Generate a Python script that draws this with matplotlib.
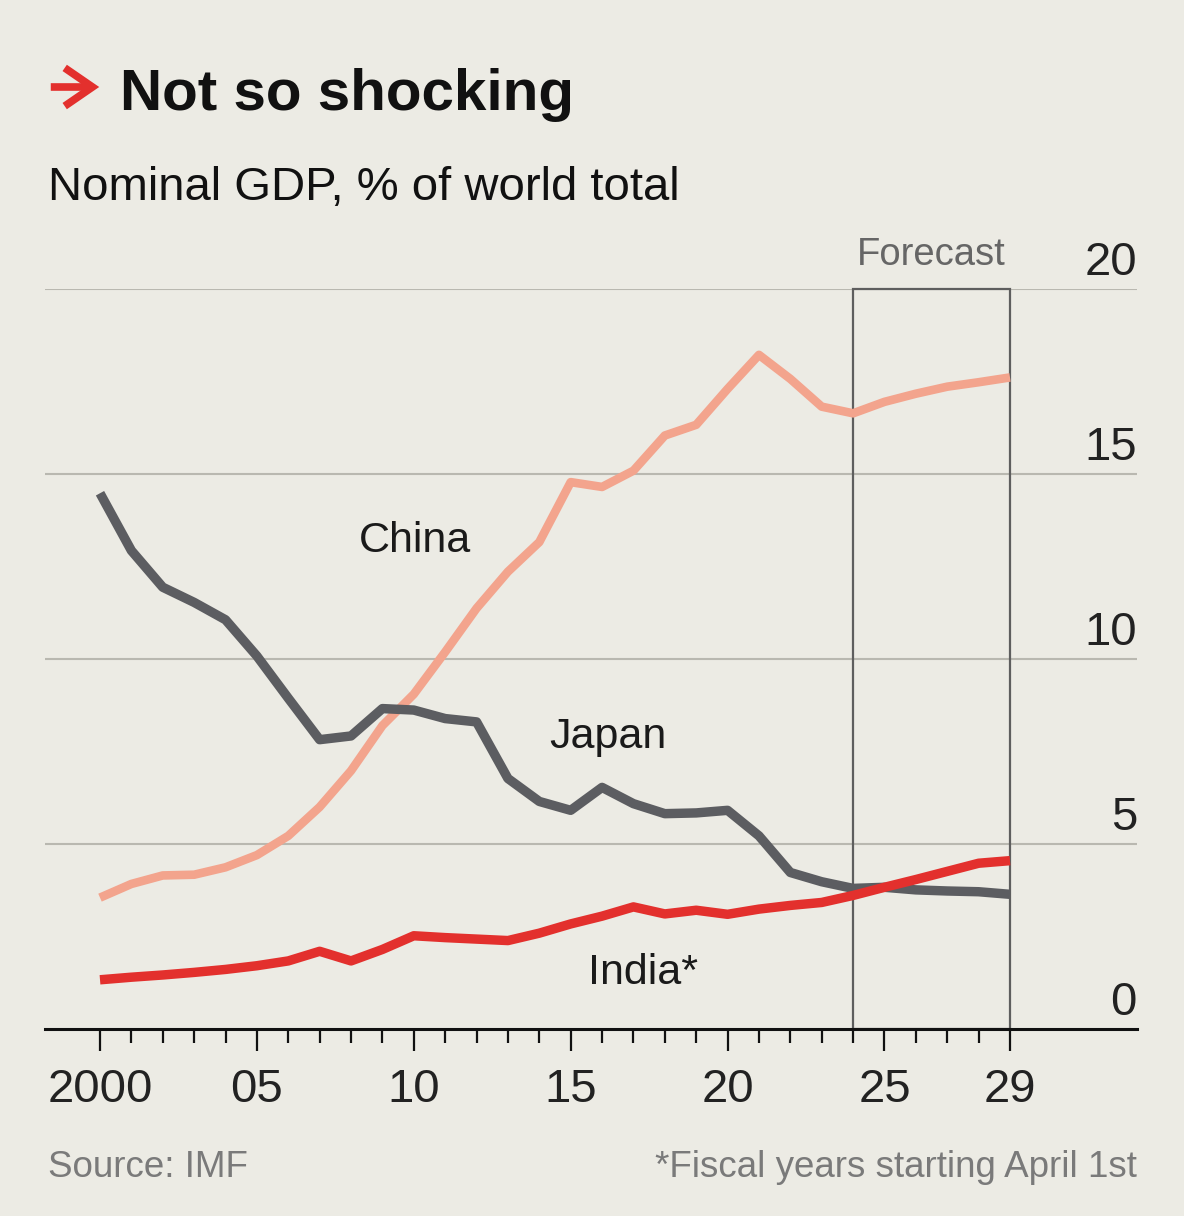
import matplotlib
matplotlib.use("Agg")
import matplotlib.pyplot as plt
import matplotlib.transforms as mtransforms
from matplotlib.patches import Rectangle, FancyArrowPatch

# Daten: Anteil am nominalen Welt-BIP (%)
years = list(range(2000, 2030))
china = [3.55, 3.92, 4.15, 4.17, 4.37, 4.70, 5.22, 6.0, 6.98, 8.2,
         9.05, 10.19, 11.37, 12.36, 13.16, 14.78, 14.65, 15.09, 16.04, 16.33,
         17.3, 18.22, 17.57, 16.82, 16.64, 16.95, 17.17, 17.36, 17.48, 17.61]
japan = [14.48, 12.93, 11.94, 11.53, 11.06, 10.08, 8.94, 7.82, 7.92, 8.66,
         8.62, 8.39, 8.30, 6.77, 6.15, 5.91, 6.53, 6.09, 5.82, 5.84,
         5.91, 5.22, 4.23, 3.98, 3.80, 3.83, 3.76, 3.73, 3.71, 3.64]
india = [1.33, 1.40, 1.46, 1.53, 1.61, 1.71, 1.84, 2.10, 1.84, 2.15,
         2.52, 2.47, 2.43, 2.39, 2.59, 2.84, 3.05, 3.30, 3.11, 3.21,
         3.10, 3.24, 3.34, 3.42, 3.61, 3.83, 4.04, 4.26, 4.48, 4.55]

yticks = [0, 5, 10, 15, 20]
xmajor = [2000, 2005, 2010, 2015, 2020, 2025, 2029]
xlabels = ["2000", "05", "10", "15", "20", "25", "29"]
forecast_start, forecast_end = 2024, 2029

BG = "#ecebe4"
plt.rcParams["font.family"] = ["Liberation Sans", "DejaVu Sans"]

fig = plt.figure(figsize=(11.84, 12.16), dpi=100, facecolor=BG)
W, H = 1184, 1216
ax = fig.add_axes([45 / W, (H - 1029) / H, 1092 / W, (1029 - 289) / H])
ax.set_facecolor(BG)

x_left = 2000 - 55 / 31.38
x_right = 2029 + 127 / 31.38
ax.set_xlim(x_left, x_right)
ax.set_ylim(0, 20)

# Gitterlinien
for v in yticks[1:]:
    ax.axhline(v, color="#b9b8b0", lw=1.5, zorder=1)

# Prognose-Kasten
ax.add_patch(Rectangle((forecast_start, 0), forecast_end - forecast_start, 20,
                       fill=False, edgecolor="#5e5e5e", lw=1.6, zorder=2,
                       clip_on=False))

ax.plot(years, china, color="#f3a48d", lw=6.2, zorder=3, solid_capstyle="butt")
ax.plot(years, japan, color="#5c5d61", lw=6.8, zorder=4, solid_capstyle="butt")
ax.plot(years, india, color="#e3302d", lw=6.8, zorder=5, solid_capstyle="butt")

# Beschriftungen der Linien
ax.text(2010.05, 13.2, "China", fontsize=31, ha="center", va="center", color="#1a1a1a")
ax.text(2016.2, 7.9, "Japan", fontsize=31, ha="center", va="center", color="#1a1a1a")
ax.text(2017.3, 1.5, "India*", fontsize=31, ha="center", va="center", color="#1a1a1a")

# y-Beschriftung rechts oberhalb der Linien
trans = mtransforms.blended_transform_factory(ax.transAxes, ax.transData)
for v in yticks:
    ax.text(1.0, v + 0.38, str(v), transform=trans, ha="right", va="baseline",
            fontsize=34, color="#222222")

ax.text((forecast_start + forecast_end) / 2, 20.65, "Forecast", fontsize=27.5,
        ha="center", va="baseline", color="#666666")

for s in ["top", "right", "left"]:
    ax.spines[s].set_visible(False)
ax.spines["bottom"].set_color("#111111")
ax.spines["bottom"].set_linewidth(2.2)
ax.spines["bottom"].set_zorder(6)

ax.set_yticks([])
ax.set_xticks(xmajor)
ax.set_xticklabels(xlabels)
ax.set_xticks(years, minor=True)
ax.tick_params(axis="x", which="major", length=16, width=1.6, color="#111111",
               labelsize=34, pad=12, labelcolor="#222222")
ax.tick_params(axis="x", which="minor", length=10, width=1.6, color="#111111")

# Titel
fig.text(120 / W, 1 - 110 / H, "Not so shocking", fontsize=42, fontweight="bold",
         ha="left", va="baseline", color="#111111")
fig.add_artist(FancyArrowPatch((48 / W, 1 - 87 / H), (102 / W, 1 - 87 / H),
                               transform=fig.transFigure,
                               arrowstyle="->,head_length=0.8,head_width=0.55",
                               mutation_scale=25, lw=5.5, color="#e3302d",
                               joinstyle="miter", capstyle="butt"))
fig.text(48 / W, 1 - 200 / H, "Nominal GDP, % of world total", fontsize=34,
         ha="left", va="baseline", color="#111111")

fig.text(48 / W, 1 - 1177 / H, "Source: IMF", fontsize=26.5, ha="left",
         va="baseline", color="#7a7a7a")
fig.text(1137 / W, 1 - 1177 / H, "*Fiscal years starting April 1st", fontsize=26.5,
         ha="right", va="baseline", color="#7a7a7a")

fig.savefig("out.png", dpi=100, facecolor=BG)
